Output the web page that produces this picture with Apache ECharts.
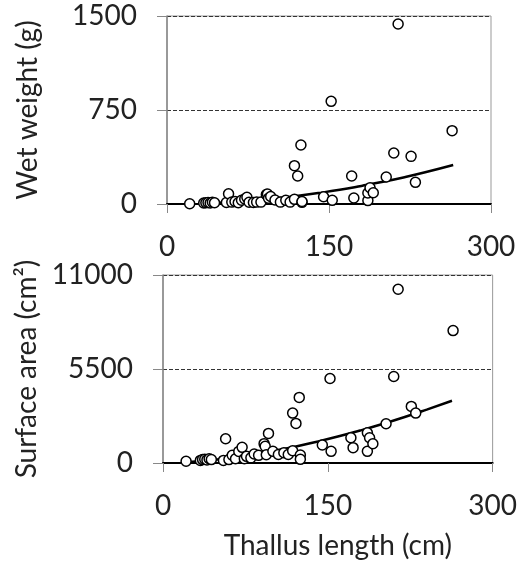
<!DOCTYPE html>
<html><head><meta charset="utf-8">
<script src="https://cdn.jsdelivr.net/npm/echarts@6/dist/echarts.min.js"></script>
<style>html,body{margin:0;padding:0;background:#fff}#c{width:520px;height:567px}</style>
</head><body><div id="c"></div>
<script>
// Thallus length (cm) of each specimen
const thallusLength = [21,34,36,38,40,42,44,55,57,60,63,66,69,72,74,76,80,83,87,92,93,94,96,100,105,110,114,118,118,121,124,125,125,145,152,153,171,173,186,186,188,191,203,210,214,226,230,264];
// Wet weight (g)
const wetWeight = [2,8,10,12,8,14,10,12,82,15,20,10,30,40,53,14,12,15,15,75,80,45,60,32,15,29,15,37,306,223,471,13,20,58,819,29,223,48,27,88,130,90,215,407,1436,380,173,585];
// Surface area (cm2)
const surfaceArea = [100,150,200,220,180,250,200,150,1420,200,450,250,680,915,250,390,300,525,448,1130,973,487,1733,681,500,604,500,720,2920,2317,3836,467,214,1051,4945,681,1480,896,681,1772,1480,1129,2297,5062,10163,3310,2920,7749];
// trend lines
const trendWwX = [35,60,80,100,120,140,160,180,200,220,240,265];
const trendWwY = [5,16,28,44,64,87,113,144,177,214,255,311];
const trendSaX = [20,40,60,80,100,120,140,160,180,200,220,240,263];
const trendSaY = [45,146,292,477,699,954,1243,1561,1909,2286,2690,3123,3641];
const xTicks = [0,150,300];
const wwTicks = [0,750,1500];
const saTicks = [0,5500,11000];

const FONT = 'Lato';
const FS = 28;
const pts = (xs, ys) => xs.map((x,i)=>[x, ys[i]]);
const plain = v => String(v);

function xAxisOpt(gi, name){
  return {
    gridIndex: gi, type:'value', min:xTicks[0], max:xTicks[2], interval:xTicks[1]-xTicks[0],
    axisLine:{show:true, onZero:false, lineStyle:{color:'#000', width:2}},
    axisTick:{show:true, inside:false, length:9, lineStyle:{color:'#888', width:1}},
    axisLabel:{margin:29, fontFamily:FONT, fontSize:FS, color:'#222', formatter:plain},
    splitLine:{show:false},
    name: name || '', nameLocation:'middle', nameGap:69,
    nameTextStyle:{fontFamily:FONT, fontSize:FS, color:'#222', padding:[0,0,0,20]}
  };
}
function yAxisOpt(gi, ticks, name, gap){
  return {
    gridIndex: gi, type:'value', min:ticks[0], max:ticks[2], interval:ticks[1]-ticks[0],
    axisLine:{show:true, lineStyle:{color:'#888', width:1.5}},
    axisTick:{show:true, inside:false, length:10, lineStyle:{color:'#888', width:1}},
    axisLabel:{margin:30, fontFamily:FONT, fontSize:FS, color:'#222', formatter:plain},
    splitLine:{show:true, lineStyle:{color:'#333', type:[4,2], width:1}},
    name:name, nameLocation:'middle', nameRotate:90, nameGap:gap,
    nameTextStyle:{fontFamily:FONT, fontSize:FS, color:'#222'}
  };
}
const chart = echarts.init(document.getElementById('c'), null, {renderer:'canvas'});
chart.setOption({
  animation:false,
  backgroundColor:'#fff',
  grid:[
    {left:167, top:16, width:324, height:188, show:true, borderColor:'#999', borderWidth:1, backgroundColor:'transparent'},
    {left:163, top:275, width:331, height:188, show:true, borderColor:'#999', borderWidth:1, backgroundColor:'transparent'}
  ],
  xAxis:[xAxisOpt(0), xAxisOpt(1,'Thallus length (cm)')],
  yAxis:[yAxisOpt(0, wwTicks, 'Wet weight (g)', 125), yAxisOpt(1, saTicks, 'Surface area (cm²)', 119)],
  series:[
    {type:'line', xAxisIndex:0, yAxisIndex:0, data:pts(trendWwX, trendWwY), smooth:true, showSymbol:false, lineStyle:{color:'#000', width:2.5}, z:2},
    {type:'scatter', xAxisIndex:0, yAxisIndex:0, data:pts(thallusLength, wetWeight), symbol:'circle', symbolSize:10, itemStyle:{color:'#fff', borderColor:'#000', borderWidth:1.5, opacity:1}, z:3},
    {type:'line', xAxisIndex:1, yAxisIndex:1, data:pts(trendSaX, trendSaY), smooth:true, showSymbol:false, lineStyle:{color:'#000', width:2.5}, z:2},
    {type:'scatter', xAxisIndex:1, yAxisIndex:1, data:pts(thallusLength, surfaceArea), symbol:'circle', symbolSize:10, itemStyle:{color:'#fff', borderColor:'#000', borderWidth:1.5, opacity:1}, z:3}
  ]
});
</script></body></html>
